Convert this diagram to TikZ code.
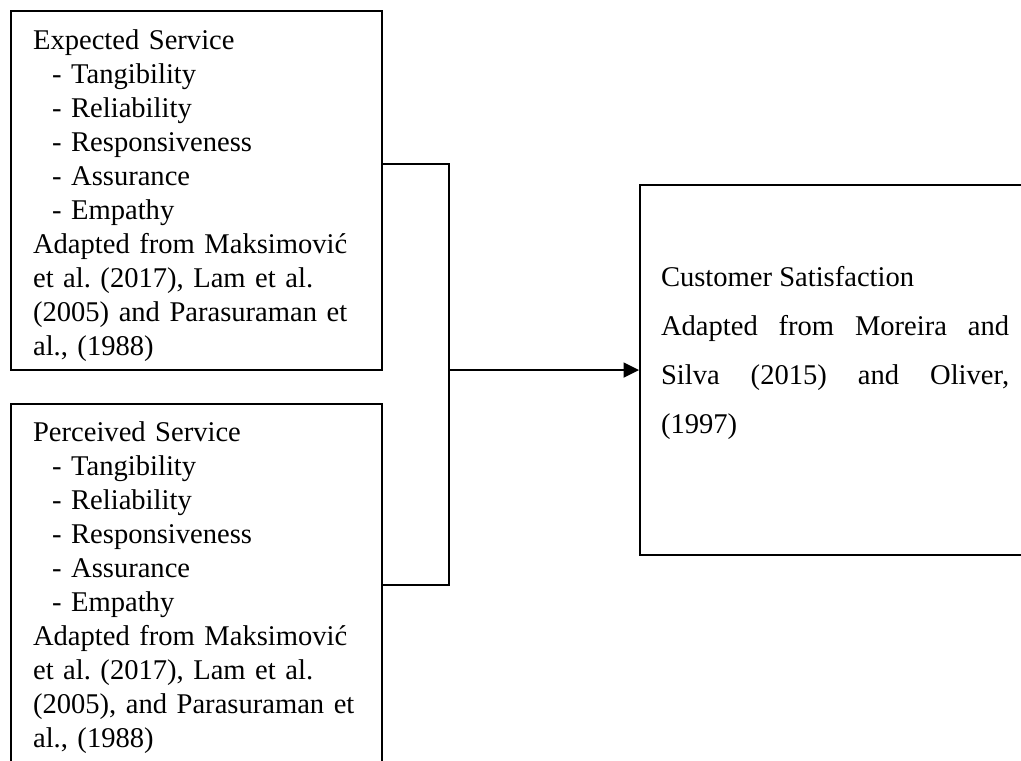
\documentclass[tikz,border=0pt]{standalone}
\usepackage{fontspec}
\setmainfont{Liberation Serif}
\usetikzlibrary{positioning,arrows.meta}
\setlength{\parindent}{0pt}
\frenchspacing

\begin{document}
\begin{tikzpicture}[x=0.42pt,y=-0.42pt,
        font=\fontsize{12}{14.28}\selectfont,
        n/.style={draw,line width=0.9pt,text width=137.3pt,inner xsep=9.24pt,inner ysep=0pt,
          align=left,anchor=north west},
        f/.style={line width=0.9pt},
        a/.style={f,-{Triangle[length=6.5pt,width=6.3pt]}}]
  \useasboundingbox (0,0) rectangle (1021,761);
  \clip (0,0) rectangle (1021,761);
  \node[n,minimum height=150.8pt] (e) at (10,10) {\vrule height 12.3pt width 0pt Expected Service\\
    \hspace*{8pt}- Tangibility\\
    \hspace*{8pt}- Reliability\\
    \hspace*{8pt}- Responsiveness\\
    \hspace*{8pt}- Assurance\\
    \hspace*{8pt}- Empathy\\
    Adapted from Maksimović\\
    et al. (2017), Lam et al.\\
    (2005) and Parasuraman et\\
    al., (1988)\vrule depth 2.6pt height 0pt width 0pt};
  \node[n,minimum height=160pt,below=13.4pt of e] (p) {\vrule height 12.3pt width 0pt Perceived Service\\
    \hspace*{8pt}- Tangibility\\
    \hspace*{8pt}- Reliability\\
    \hspace*{8pt}- Responsiveness\\
    \hspace*{8pt}- Assurance\\
    \hspace*{8pt}- Empathy\\
    Adapted from Maksimović\\
    et al. (2017), Lam et al.\\
    (2005), and Parasuraman et\\
    al., (1988)\vrule depth 12.8pt height 0pt width 0pt};
  \node[n,text width=146.2pt,inner xsep=8.8pt,minimum height=155.4pt,align=justify,
    font=\fontsize{12}{20.7}\selectfont] (c) at (639,184)
    {\hyphenpenalty=10000\relax
     \vrule height 12.3pt width 0pt Customer Satisfaction\par
     Adapted from Moreira and Silva (2015) and Oliver, (1997)\vrule depth 20.8pt height 0pt width 0pt};
  \coordinate (jt) at (449,164);
  \coordinate (jb) at (449,585);
  \draw[f] (e.east |- jt) -- (jt) -- (jb) -- (p.east |- jb);
  \draw[a] (jt |- c.west) -- (c.west);
\end{tikzpicture}
\end{document}
